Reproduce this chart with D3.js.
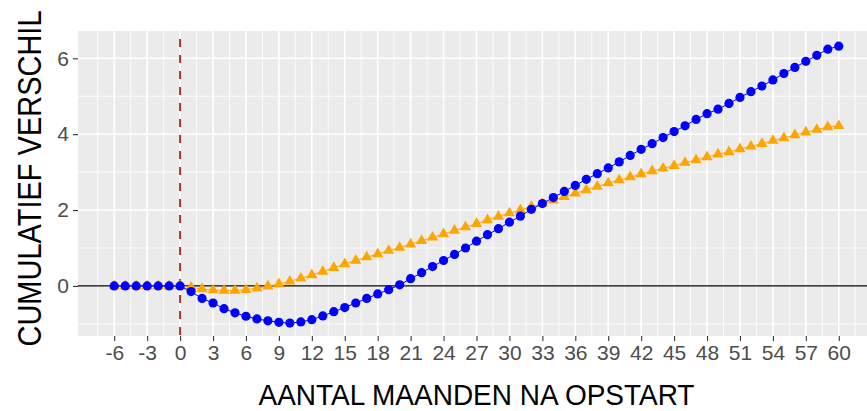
<!DOCTYPE html>
<html>
<head>
<meta charset="utf-8">
<script src="https://cdn.jsdelivr.net/npm/d3@7"></script>
<style>
  body { margin: 0; background: #fff; }
  text { font-family: "Liberation Sans", Arial, sans-serif; }
</style>
</head>
<body>
<svg id="chart"></svg>
<script>
// months since start, -6 .. 60
const months = [-6, -5, -4, -3, -2, -1, 0, 1, 2, 3, 4, 5, 6, 7, 8, 9, 10, 11, 12, 13, 14, 15,
  16, 17, 18, 19, 20, 21, 22, 23, 24, 25, 26, 27, 28, 29, 30, 31, 32, 33, 34, 35, 36, 37,
  38, 39, 40, 41, 42, 43, 44, 45, 46, 47, 48, 49, 50, 51, 52, 53, 54, 55, 56, 57, 58, 59, 60];

// blue series (circles)
const seriesBlue = [0, 0, 0, 0, 0, 0, 0,
  -0.15, -0.33, -0.45, -0.60, -0.71, -0.80, -0.87, -0.92, -0.96, -0.98,
  -0.95, -0.89, -0.79, -0.68, -0.57, -0.45, -0.33, -0.21, -0.10, 0.03,
  0.19, 0.35, 0.51, 0.67, 0.83, 1.00, 1.18, 1.35, 1.51, 1.68,
  1.84, 2.02, 2.17, 2.33, 2.49, 2.65, 2.81, 2.96, 3.11, 3.27,
  3.44, 3.60, 3.75, 3.91, 4.07, 4.22, 4.39, 4.54, 4.66, 4.81,
  4.97, 5.12, 5.27, 5.43, 5.60, 5.76, 5.92, 6.08, 6.24, 6.32];

// orange series (triangles)
const seriesOrange = [0, 0, 0, 0, 0, 0, 0,
  -0.04, -0.08, -0.11, -0.12, -0.12, -0.10, -0.06, -0.01, 0.05, 0.12,
  0.20, 0.29, 0.38, 0.48, 0.58, 0.67, 0.76, 0.84, 0.93, 1.01,
  1.10, 1.19, 1.28, 1.37, 1.46, 1.55, 1.64, 1.74, 1.83, 1.92,
  2.00, 2.09, 2.17, 2.26, 2.35, 2.44, 2.53, 2.62, 2.71, 2.79,
  2.87, 2.95, 3.03, 3.10, 3.17, 3.25, 3.32, 3.40, 3.47, 3.53,
  3.61, 3.68, 3.75, 3.83, 3.90, 3.98, 4.05, 4.12, 4.19, 4.22];

const xTicks = [-6, -3, 0, 3, 6, 9, 12, 15, 18, 21, 24, 27, 30, 33, 36, 39, 42, 45, 48, 51, 54, 57, 60];
const yTicks = [0, 2, 4, 6];
const yMinor = [-1, 1, 3, 5];

const width = 867, height = 411;
const panel = {left: 78, right: 875, top: 31, bottom: 336};

const svg = d3.select('#chart')
    .attr('width', width)
    .attr('height', height);

const x = d3.scaleLinear().domain([-9.3, 63.3]).range([panel.left, panel.right]);
const y = d3.scaleLinear().domain([-1.32, 6.72]).range([panel.bottom, panel.top]);

// panel background
svg.append('rect')
    .attr('x', panel.left).attr('y', panel.top)
    .attr('width', panel.right - panel.left)
    .attr('height', panel.bottom - panel.top)
    .attr('fill', '#ebebeb');

const grid = svg.append('g');
const xMinor = xTicks.map(t => t - 1.5).concat([61.5]);

grid.selectAll('.xminor').data(xMinor).join('line')
    .attr('x1', d => x(d)).attr('x2', d => x(d))
    .attr('y1', panel.top).attr('y2', panel.bottom)
    .attr('stroke', '#fff').attr('stroke-width', 0.8);
grid.selectAll('.yminor').data(yMinor).join('line')
    .attr('class', 'yminor')
    .attr('x1', panel.left).attr('x2', panel.right)
    .attr('y1', d => y(d)).attr('y2', d => y(d))
    .attr('stroke', '#fff').attr('stroke-width', 0.8);
grid.selectAll('.xmajor').data(xTicks).join('line')
    .attr('class', 'xmajor')
    .attr('x1', d => x(d)).attr('x2', d => x(d))
    .attr('y1', panel.top).attr('y2', panel.bottom)
    .attr('stroke', '#fff').attr('stroke-width', 1.6);
grid.selectAll('.ymajor').data(yTicks).join('line')
    .attr('class', 'ymajor')
    .attr('x1', panel.left).attr('x2', panel.right)
    .attr('y1', d => y(d)).attr('y2', d => y(d))
    .attr('stroke', '#fff').attr('stroke-width', 1.6);

// reference lines
svg.append('line')
    .attr('x1', panel.left).attr('x2', panel.right)
    .attr('y1', y(0)).attr('y2', y(0))
    .attr('stroke', '#000').attr('stroke-width', 1.2);
svg.append('line')
    .attr('x1', x(0)).attr('x2', x(0))
    .attr('y1', panel.top + 8).attr('y2', panel.bottom)
    .attr('stroke', '#b03030').attr('stroke-width', 2)
    .attr('stroke-dasharray', '8,8');

const data = months.map((m, i) => ({m, blue: seriesBlue[i], orange: seriesOrange[i]}));

// orange series
svg.append('path').datum(data)
    .attr('fill', 'none').attr('stroke', 'orange').attr('stroke-width', 1)
    .attr('d', d3.line().x(d => x(d.m)).y(d => y(d.orange)));
const tri = d3.symbol().type(d3.symbolTriangle).size(54);
svg.append('g').selectAll('path').data(data).join('path')
    .attr('transform', d => `translate(${x(d.m)},${y(d.orange)})`)
    .attr('d', tri)
    .attr('fill', 'orange');

// blue series
svg.append('path').datum(data)
    .attr('fill', 'none').attr('stroke', 'blue').attr('stroke-width', 1)
    .attr('d', d3.line().x(d => x(d.m)).y(d => y(d.blue)));
svg.append('g').selectAll('circle').data(data).join('circle')
    .attr('cx', d => x(d.m)).attr('cy', d => y(d.blue))
    .attr('r', 4.6)
    .attr('fill', 'blue');

// axes
const xAxis = svg.append('g')
    .attr('transform', `translate(0,${panel.bottom})`)
    .call(d3.axisBottom(x).tickValues(xTicks).tickSize(5).tickPadding(4).tickFormat(d => String(d)));
const yAxis = svg.append('g')
    .attr('transform', `translate(${panel.left},0)`)
    .call(d3.axisLeft(y).tickValues(yTicks).tickSize(5).tickPadding(4).tickFormat(d => String(d)));

[xAxis, yAxis].forEach(ax => {
    ax.select('.domain').remove();
    ax.selectAll('.tick line').attr('stroke', '#333').attr('stroke-width', 1.1);
    ax.selectAll('.tick text')
        .attr('fill', '#4d4d4d')
        .style('font-size', '21px')
        .style('font-family', '"Liberation Sans", Arial, sans-serif');
});

// axis titles (a little taller than wide, like the reference)
svg.append('text')
    .attr('transform', `translate(${(panel.left + panel.right) / 2},405) scale(1,1.08)`)
    .attr('text-anchor', 'middle')
    .style('font-size', '28px')
    .text('AANTAL MAANDEN NA OPSTART');

svg.append('text')
    .attr('transform', `translate(41,${(panel.top + panel.bottom) / 2 - 5}) rotate(-90) scale(1,1.12)`)
    .attr('text-anchor', 'middle')
    .style('font-size', '29px')
    .text('CUMULATIEF VERSCHIL');
</script>
</body>
</html>
